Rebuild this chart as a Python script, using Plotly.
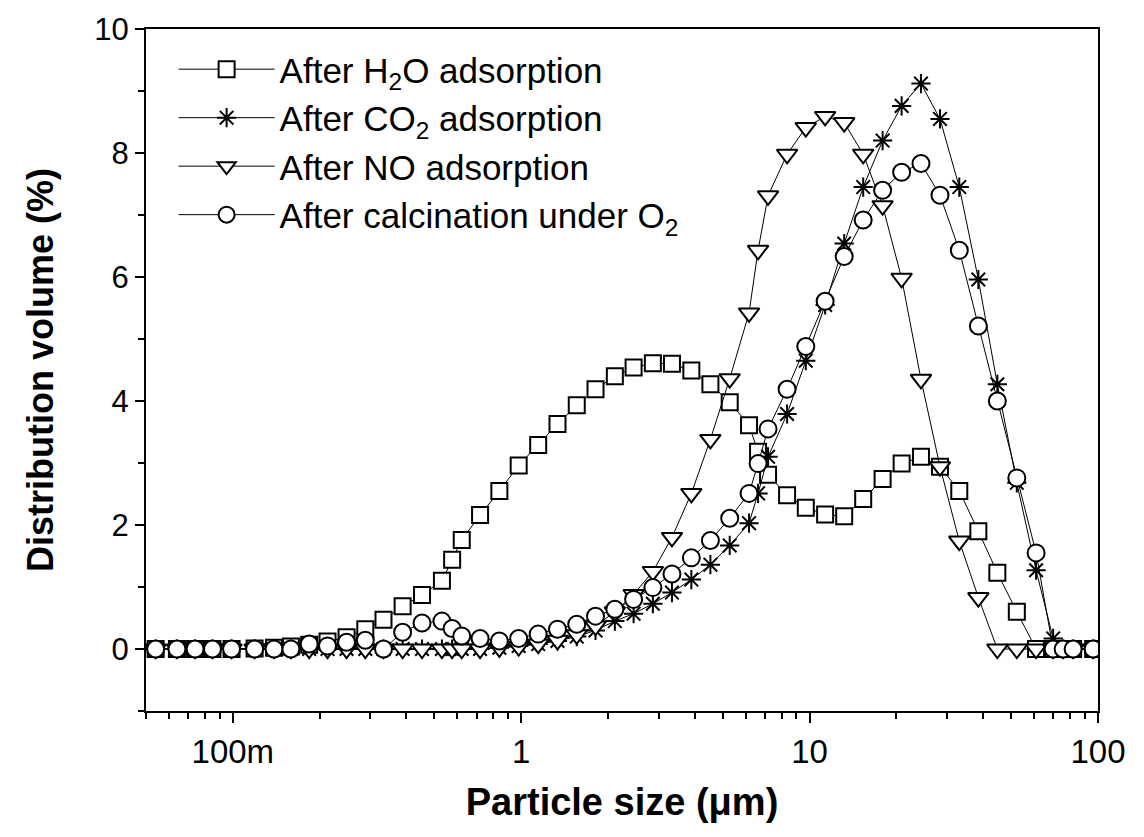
import plotly.graph_objects as go

# Particle size classes (µm)
size_um = [0.054, 0.064, 0.074, 0.085, 0.099, 0.119, 0.139, 0.159, 0.184, 0.213,
           0.248, 0.288, 0.333, 0.388, 0.453, 0.531, 0.576, 0.622, 0.720, 0.840,
           0.980, 1.145, 1.336, 1.558, 1.810, 2.112, 2.453, 2.861, 3.332, 3.890,
           4.529, 5.284, 6.166, 6.627, 7.177, 8.355, 9.701, 11.32, 13.18, 15.34,
           17.91, 20.85, 24.33, 28.32, 33.04, 38.47, 44.77, 52.30, 61.00, 69.9,
           75.7, 82.0, 96.2]

h2o = [0, 0, 0, 0, 0, 0.01, 0.02, 0.04, 0.07, 0.12,
       0.19, 0.32, 0.47, 0.69, 0.87, 1.10, 1.44, 1.76, 2.16, 2.55,
       2.96, 3.29, 3.63, 3.93, 4.19, 4.40, 4.54, 4.61, 4.60, 4.49,
       4.27, 3.98, 3.61, 3.18, 2.81, 2.48, 2.28, 2.17, 2.14, 2.42,
       2.74, 2.99, 3.10, 2.94, 2.55, 1.90, 1.23, 0.60, 0, 0,
       0, 0, 0]

co2 = [0, 0, 0, 0, 0, 0, 0, 0, 0, 0,
       0, 0, 0, 0, 0, 0, 0, 0, 0, 0.02,
       0.05, 0.08, 0.13, 0.20, 0.30, 0.45, 0.57, 0.73, 0.91, 1.12,
       1.36, 1.67, 2.03, 2.51, 3.10, 3.79, 4.65, 5.55, 6.54, 7.45,
       8.20, 8.76, 9.12, 8.55, 7.45, 5.96, 4.27, 2.68, 1.27, 0.17,
       0, 0, 0]

no = [0, 0, 0, 0, 0, 0, 0, 0, 0, 0,
      0, 0, 0, 0, 0, 0, 0, 0, 0, 0.02,
      0.04, 0.08, 0.14, 0.23, 0.37, 0.60, 0.88, 1.25, 1.80, 2.51,
      3.38, 4.36, 5.42, 6.43, 7.31, 7.98, 8.41, 8.59, 8.49, 7.98,
      7.15, 5.98, 4.35, 2.94, 1.74, 0.83, 0, 0, 0, 0,
      0, 0, 0]

calc = [0, 0, 0, 0, 0, 0, 0, 0, 0.08, 0.05,
        0.11, 0.14, 0.0, 0.27, 0.42, 0.45, 0.33, 0.21, 0.17, 0.13,
        0.17, 0.24, 0.32, 0.40, 0.53, 0.64, 0.80, 0.99, 1.21, 1.47,
        1.75, 2.11, 2.51, 2.99, 3.55, 4.19, 4.88, 5.61, 6.33, 6.92,
        7.40, 7.69, 7.83, 7.32, 6.43, 5.21, 4.00, 2.76, 1.55, 0,
        0, 0, 0]

series_names = ["After H<sub>2</sub>O adsorption",
                "After CO<sub>2</sub> adsorption",
                "After NO adsorption",
                "After calcination under O<sub>2</sub>"]

x_tickvals = [0.1, 1, 10, 100]
x_ticktext = ["100m", "1", "10", "100"]
x_minor = [0.05, 0.06, 0.07, 0.08, 0.09,
           0.2, 0.3, 0.4, 0.5, 0.6, 0.7, 0.8, 0.9,
           2, 3, 4, 5, 6, 7, 8, 9,
           20, 30, 40, 50, 60, 70, 80, 90]

REG = "Liberation Sans, Arial, sans-serif"

fig = go.Figure()
styles = [
    dict(symbol="square", size=16, color="white"),
    dict(symbol="asterisk-open", size=16, color="black"),
    dict(symbol="triangle-down", size=18, color="white"),
    dict(symbol="circle", size=17, color="white"),
]
for name, ys, st in zip(series_names, [h2o, co2, no, calc], styles):
    fig.add_trace(go.Scatter(
        x=size_um, y=ys, name=name, mode="lines+markers",
        line=dict(color="black", width=1),
        marker=dict(symbol=st["symbol"], size=st["size"], color=st["color"],
                    line=dict(color="black", width=2)),
    ))

fig.update_layout(
    width=1144, height=837,
    margin=dict(l=146, r=46, t=24, b=126),
    paper_bgcolor="white", plot_bgcolor="white",
    showlegend=True,
    legend=dict(x=0.029, y=0.984, xanchor="left", yanchor="top",
                bgcolor="rgba(0,0,0,0)", borderwidth=0,
                font=dict(family=REG, size=35, color="black"),
                itemwidth=96, tracegroupgap=0),
    font=dict(family=REG, color="black"),
)

fig.update_xaxes(
    type="log", range=[-1.30103, 2],
    tickvals=x_tickvals, ticktext=x_ticktext,
    ticks="outside", ticklen=10, tickwidth=2, tickcolor="black",
    tickfont=dict(family=REG, size=33, color="black"),
    minor=dict(tickvals=x_minor, ticks="outside", ticklen=6, tickwidth=1.5, tickcolor="black"),
    showline=True, linecolor="black", linewidth=2, mirror=True,
    showgrid=False, zeroline=False,
    title=dict(text="<b>Particle size (μm)</b>",
               font=dict(family=REG, size=38, color="black"), standoff=20),
)
fig.update_yaxes(
    range=[-1, 10], tickmode="linear", tick0=0, dtick=2,
    ticks="outside", ticklen=9, tickwidth=2, tickcolor="black",
    tickfont=dict(family=REG, size=31, color="black"),
    minor=dict(tick0=-1, dtick=1, ticks="outside", ticklen=6, tickwidth=1.5, tickcolor="black"),
    showline=True, linecolor="black", linewidth=2, mirror=True,
    showgrid=False, zeroline=False,
    title=dict(text="<b>Distribution volume (%)</b>",
               font=dict(family=REG, size=36, color="black"), standoff=30),
)

fig.write_html("out.html")
